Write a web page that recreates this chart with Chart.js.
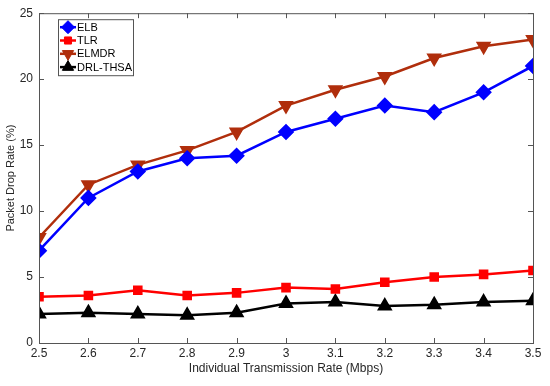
<!DOCTYPE html>
<html><head><meta charset="utf-8">
<script src="https://cdn.jsdelivr.net/npm/chart.js@4.4.0/dist/chart.umd.min.js"></script>
<style>html,body{margin:0;padding:0;background:#fff}#wrap{width:550px;height:386px}</style>
</head><body><div id="wrap"><canvas id="c" width="550" height="386"></canvas></div>
<script>
const rates = [2.5, 2.6, 2.7, 2.8, 2.9, 3.0, 3.1, 3.2, 3.3, 3.4, 3.5];
const elb = [7.0, 11.0, 13.0, 14.0, 14.2, 16.0, 17.0, 18.0, 17.5, 19.0, 21.0];
const tlr = [3.5, 3.6, 4.0, 3.6, 3.8, 4.2, 4.1, 4.6, 5.0, 5.2, 5.5];
const elmdr = [8.0, 12.0, 13.5, 14.6, 16.0, 18.0, 19.2, 20.2, 21.6, 22.5, 23.0];
const drl = [2.2, 2.3, 2.2, 2.1, 2.3, 3.0, 3.1, 2.8, 2.9, 3.1, 3.2];
const xTicks = [2.5, 2.6, 2.7, 2.8, 2.9, 3.0, 3.1, 3.2, 3.3, 3.4, 3.5];
const yTicks = [0, 5, 10, 15, 20, 25];

const pts = arr => arr.map((v, i) => ({x: rates[i], y: v}));
const FONT = "'Liberation Sans', Arial, sans-serif";
const AXIS = '#555';
const TXT = '#262626';

const boxTicks = {
  id: 'boxTicks',
  afterDatasetsDraw(chart) {
    const {ctx, chartArea: a, scales: {x, y}} = chart;
    ctx.save();
    ctx.strokeStyle = AXIS; ctx.lineWidth = 1;
    ctx.strokeRect(a.left + 0.5, a.top + 0.5, a.right - a.left, a.bottom - a.top);
    const L = 5;
    ctx.beginPath();
    xTicks.forEach(v => {
      const px = Math.round(x.getPixelForValue(v)) + 0.5;
      ctx.moveTo(px, a.bottom); ctx.lineTo(px, a.bottom - L);
      ctx.moveTo(px, a.top); ctx.lineTo(px, a.top + L);
    });
    yTicks.forEach(v => {
      const py = Math.round(y.getPixelForValue(v)) + 0.5;
      ctx.moveTo(a.left, py); ctx.lineTo(a.left + L, py);
      ctx.moveTo(a.right, py); ctx.lineTo(a.right - L, py);
    });
    ctx.stroke();
    ctx.restore();
  },
  afterDraw(chart) {
    const {ctx, chartArea: a} = chart;
    const bx = a.left + 19, by = a.top + 6, bw = 75, bh = 56;
    ctx.save();
    ctx.fillStyle = '#fff';
    ctx.fillRect(bx, by, bw, bh);
    ctx.strokeStyle = AXIS; ctx.lineWidth = 1;
    ctx.strokeRect(bx + 0.5, by + 0.5, bw, bh);
    chart.data.datasets.forEach((ds, i) => {
      const cy = by + 8 + i * 13.3;
      const x0 = bx + 2, x1 = bx + 18;
      ctx.strokeStyle = ds.borderColor; ctx.lineWidth = 2.5;
      ctx.beginPath(); ctx.moveTo(x0, cy); ctx.lineTo(x1, cy); ctx.stroke();
      ctx.fillStyle = ds.pointBackgroundColor; ctx.strokeStyle = ds.pointBackgroundColor; ctx.lineWidth = 1;
      Chart.helpers.drawPoint(ctx, {pointStyle: ds.pointStyle, rotation: ds.rotation || 0,
        radius: ds.pointRadius, borderWidth: 1}, (x0 + x1) / 2, cy);
      ctx.fillStyle = '#000';
      ctx.font = '11px ' + FONT;
      ctx.textBaseline = 'middle';
      ctx.fillText(ds.label, x1 + 1, cy + 0.5);
    });
    ctx.restore();
  }
};

const mk = (label, data, color, style, r, rot) => ({
  label, data: pts(data), borderColor: color, backgroundColor: color,
  pointBackgroundColor: color, pointBorderColor: color, borderWidth: 2.5,
  pointStyle: style, pointRadius: r, pointHoverRadius: r, rotation: rot || 0, tension: 0
});

new Chart(document.getElementById('c'), {
  type: 'line',
  data: {
    datasets: [
      mk('ELB', elb, '#0000ff', 'rectRot', 6.5),
      mk('TLR', tlr, '#ff0000', 'rect', 5),
      mk('ELMDR', elmdr, '#b02e0c', 'triangle', 6.5, 180),
      mk('DRL-THSA', drl, '#000000', 'triangle', 6.5)
    ]
  },
  plugins: [boxTicks],
  options: {
    responsive: false, animation: false,
    layout: {padding: {left: 0, right: 17, top: 13, bottom: 0}},
    plugins: {legend: {display: false}, tooltip: {enabled: false}},
    scales: {
      x: {
        type: 'linear', min: 2.5, max: 3.5,
        afterBuildTicks: s => { s.ticks = xTicks.map(v => ({value: v})); },
        afterFit: s => { s.height = 43; },
        grid: {display: false, drawTicks: false},
        border: {display: false},
        ticks: {color: TXT, font: {family: FONT, size: 12}, padding: 3, maxRotation: 0,
          callback: v => String(Math.round(v * 10) / 10)},
        title: {display: true, text: 'Individual Transmission Rate (Mbps)', color: TXT,
          font: {family: FONT, size: 12}, padding: {top: 0, bottom: 10}}
      },
      y: {
        min: 0, max: 25,
        afterBuildTicks: s => { s.ticks = yTicks.map(v => ({value: v})); },
        afterFit: s => { s.width = 39; },
        grid: {display: false, drawTicks: false},
        border: {display: false},
        ticks: {color: TXT, font: {family: FONT, size: 12}, padding: 6},
        title: {display: true, text: 'Packet Drop Rate (%)', color: TXT,
          font: {family: FONT, size: 11}, padding: {bottom: 0}}
      }
    }
  }
});
</script></body></html>
